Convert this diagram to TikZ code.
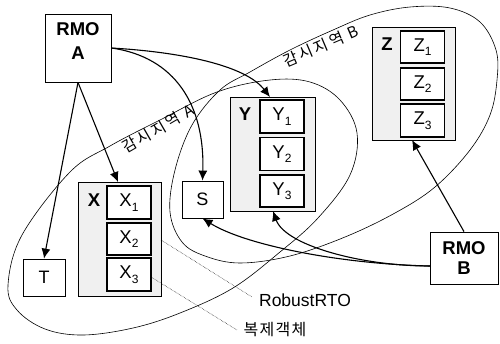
\documentclass[tikz,border=0pt]{standalone}
\usepackage{fontspec}
\setmainfont{Liberation Sans}
\newfontfamily\krfont{Noto Sans CJK KR}[LetterSpace=16]
\newfontfamily\krfontb{Noto Sans CJK KR}[LetterSpace=8]
\usetikzlibrary{arrows.meta}
\newcommand{\sub}[1]{\raisebox{-4.5pt}{\fontsize{12}{12}\selectfont #1}}
\begin{document}
\begin{tikzpicture}[x=1pt,y=-1pt,
  zone/.style={line width=0.6pt},
  container/.style={draw, line width=0.7pt, fill=gray!12, inner sep=0pt},
  inbox/.style={draw, line width=1.3pt, fill=white, inner sep=0pt, minimum width=44pt, font=\fontsize{18.5}{20}\selectfont},
  plainbox/.style={draw, line width=0.8pt, fill=white, inner sep=0pt, font=\fontsize{18}{20}\selectfont},
  lbl/.style={font=\fontsize{18.5}{20}\selectfont\bfseries, inner sep=0pt},
  arr/.style={line width=1.1pt, -{Latex[length=10pt,width=9pt]}},
  leader/.style={line width=0.5pt, densely dotted},
  kr/.style={font=\fontsize{15.5}{17}\selectfont\krfont, inner sep=0pt}
]
\useasboundingbox (0,0) rectangle (500,343);

% zones
\draw[zone] plot[smooth cycle, tension=0.6] coordinates {(8,285) (22,235) (70,172) (110,146) (160,120) (217,92) (270,80) (310,82) (340,100) (357,133) (350,175) (318,218) (280,252) (233,288) (180,313) (133,328) (83,335) (45,329) (17,310)};
\draw[zone] plot[smooth cycle, tension=0.6] coordinates {(170,212) (175,170) (192,125) (220,90) (250,72) (290,50) (333,30) (370,15) (410,7) (450,8) (480,22) (496,50) (497,80) (490,115) (470,150) (435,187) (395,213) (345,237) (290,256) (240,263) (205,256) (182,242)};
\node[kr, rotate=30] (zoneA) at (158,129) {감시지역 A};
\node[kr, rotate=23] (zoneB) at (321,46) {감시지역 B};

% RMO A
\node[plainbox, minimum width=66pt, minimum height=68pt] (rmoa) at (78,48) {};
\node[font=\fontsize{18.5}{24}\selectfont\bfseries, align=center, inner sep=0pt] (rmoatxt) at (78,41) {RMO\\A};
% T
\node[plainbox, minimum width=42pt, minimum height=37pt] (t) at (44,277.5) {T};
% X
\node[container, minimum width=83pt, minimum height=114pt] (xc) at (119.5,239) {};
\node[lbl] (xl) at (94,200) {X};
\node[inbox, minimum height=33pt] (x1) at (129,202.5) {X\sub{1}};
\node[inbox, minimum height=32pt] (x2) at (129,239) {X\sub{2}};
\node[inbox, minimum height=33pt] (x3) at (129,274.5) {X\sub{3}};
% S
\node[plainbox, minimum width=41pt, minimum height=37pt] (s) at (202.5,199.5) {S};
% Y
\node[container, minimum width=85pt, minimum height=114pt] (yc) at (272.5,154) {};
\node[lbl] (yl) at (245,114) {Y};
\node[inbox, minimum height=33pt] (y1) at (282,116.5) {Y\sub{1}};
\node[inbox, minimum height=33pt] (y2) at (282,154) {Y\sub{2}};
\node[inbox, minimum height=32pt] (y3) at (282,191) {Y\sub{3}};
% Z
\node[container, minimum width=83pt, minimum height=113pt] (zc) at (413.5,83.5) {};
\node[lbl] (zl) at (387,44) {Z};
\node[inbox, minimum height=32pt] (z1) at (422.5,47) {Z\sub{1}};
\node[inbox, minimum height=32pt] (z2) at (422.5,84) {Z\sub{2}};
\node[inbox, minimum height=33pt] (z3) at (422.5,120.5) {Z\sub{3}};
% RMO B
\node[plainbox, minimum width=68pt, minimum height=52pt, align=center, font=\fontsize{18.5}{20}\selectfont\bfseries] (rmob) at (464,258) {RMO\\B};

% labels
\node[font=\fontsize{17.5}{18}\selectfont, inner sep=0pt] (robust) at (305,300) {RobustRTO};
\node[font=\fontsize{16}{18}\selectfont\krfontb, inner sep=0pt] (copy) at (275,330) {복제객체};

% connector end coordinates
\coordinate (xin) at (118,182);
\coordinate (yin) at (270,97);
\coordinate (zin) at (412,140);
\coordinate (bout) at (430,266);
\coordinate (y3in) at (273,211);
\coordinate (lead1) at (161,240);
\coordinate (lead1e) at (252,297);
\coordinate (lead2) at (151,277);
\coordinate (lead2e) at (237,330);

% arrows
\draw[arr] (rmoa.south) -- (t.north);
\draw[arr] (rmoa.south) -- (xin);
\draw[arr] (rmoa.east) .. controls (175,57) and (205,105) .. (s.north);
\draw[arr] (rmoa.east) .. controls (180,52) and (245,65) .. (yin);
\draw[arr] (bout) .. controls (340,264) and (245,245) .. (s.south);
\draw[arr] (bout) .. controls (360,266) and (285,245) .. (y3in);
\draw[arr] (rmob.north) -- (zin);

% leaders
\draw[leader] (lead1) -- (lead1e);
\draw[leader] (lead2) -- (lead2e);
\end{tikzpicture}
\end{document}
